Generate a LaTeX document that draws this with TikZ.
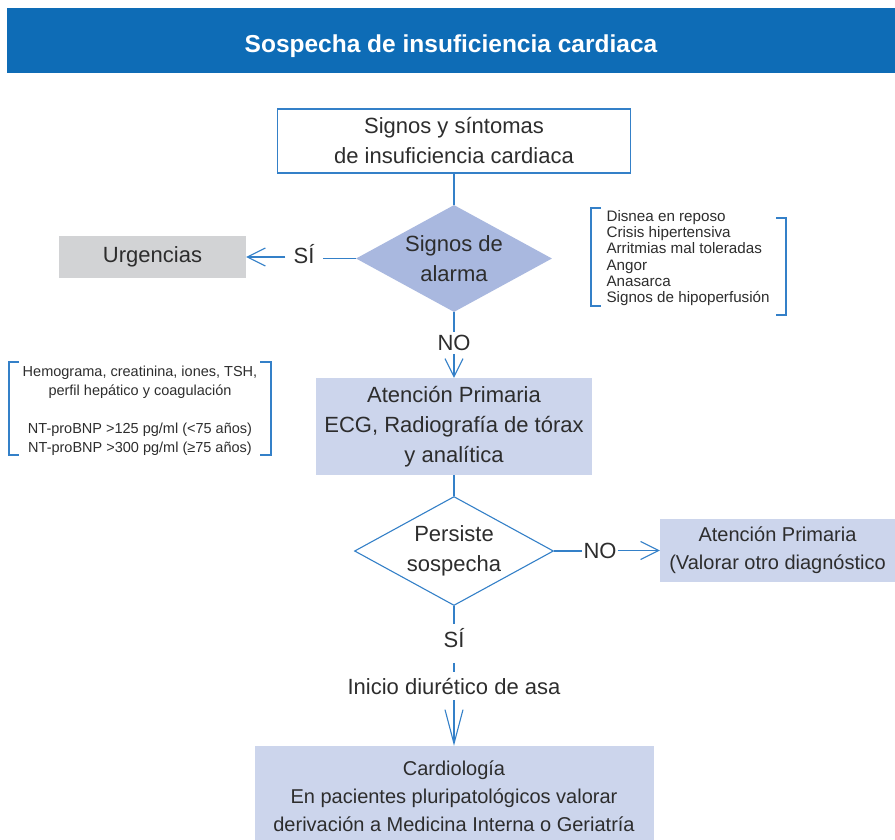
\documentclass[tikz,border=0pt]{standalone}
\usepackage{fontspec}
\setmainfont{Liberation Sans}
\usetikzlibrary{shapes.geometric, arrows.meta}

\definecolor{headblue}{RGB}{14,108,182}
\definecolor{lineblue}{RGB}{52,128,200}
\definecolor{alarmfill}{RGB}{169,184,223}
\definecolor{boxfill}{RGB}{204,213,236}
\definecolor{urggray}{RGB}{210,211,213}
\definecolor{txt}{RGB}{45,45,45}

\newcommand{\titlesize}{\fontsize{24.5}{28}\selectfont}
\newcommand{\mainsize}{\fontsize{22}{30}\selectfont}
\newcommand{\midsize}{\fontsize{20}{28}\selectfont}
\newcommand{\notesize}{\fontsize{15.2}{16.2}\selectfont}
\newcommand{\labsize}{\fontsize{14.5}{19}\selectfont}

\begin{document}
\begin{tikzpicture}[x = 1pt, y = -1pt,
        every node/.style = {text = txt, font = \mainsize},
        box/.style = {rectangle, fill = boxfill, align = center, inner sep = 0pt},
        decision/.style = {diamond, aspect = 1.83, inner sep = -4pt, align = center},
        tag/.style = {inner xsep = 8pt, inner ysep = 3pt},
        link/.style = {draw = lineblue, line width = 1.1pt},
        arrow/.style = {link, -{Straight Barb[length = 18pt, width = 18pt]}},
        bracket/.style = {draw = lineblue, line width = 1.1pt}]
        \useasboundingbox (0, 0) rectangle (895, 839);
        % header
        \node [fill = headblue, minimum width = 888, minimum height = 65, text height = 24pt, text depth = 0pt, text = white, font = \titlesize\bfseries] (title) at (451, 40.5) {Sospecha de insuficiencia cardiaca};
        % main column
        \node [draw = lineblue, line width = 1.1pt, align = center, minimum width = 353, minimum height = 64, inner sep = 0pt] (signs) at (454, 141) {Signos y síntomas\\de insuficiencia cardiaca};
        \node [decision, fill = alarmfill, minimum width = 196, minimum height = 107] (alarm) at (454, 258.5) {Signos de\\alarma};
        \node [tag] (no1) at (454, 343) {NO};
        \node [box, minimum width = 276, minimum height = 97] (primary) at (454, 426.5) {Atención Primaria\\ECG, Radiografía de tórax\\y analítica};
        \node [decision, draw = lineblue, line width = 1.1pt, fill = white, minimum width = 199, minimum height = 109] (persist) at (454, 551) {Persiste\\sospecha};
        \node [tag, inner ysep = 4pt] (si2) at (454, 638) {SÍ};
        \node [inner sep = 6pt] (diuretic) at (454, 686) {Inicio diurético de asa};
        \node [box, minimum width = 399, minimum height = 101, font = \midsize] (cardio) at (454, 796.5) {Cardiología\\En pacientes pluripatológicos valorar\\derivación a Medicina Interna o Geriatría};
        % side branches
        \node [tag] (si1) at (304, 254) {SÍ};
        \node [rectangle, fill = urggray, minimum width = 187, minimum height = 42] (urg) at (152.5, 257) {Urgencias};
        \node [tag, inner xsep = 1pt] (no2) at (600, 551) {NO};
        \node [box, minimum width = 235, minimum height = 63, font = \midsize] (other) at (777.5, 550.5) {Atención Primaria\\(Valorar otro diagnóstico};
        % notes
        \node [anchor = west, align = left, font = \notesize] (alarmlist) at (603, 258) {Disnea en reposo\\Crisis hipertensiva\\Arritmias mal toleradas\\Angor\\Anasarca\\Signos de hipoperfusión};
        \node [align = center, font = \labsize] (labs) at (140, 411) {Hemograma, creatinina, iones, TSH,\\perfil hepático y coagulación\\[19pt]NT-proBNP >125 pg/ml (<75 años)\\NT-proBNP >300 pg/ml (≥75 años)};
        \draw [bracket] (601, 208) -- (591, 208) -- (591, 306) -- (601, 306);
        \draw [bracket] (776, 218) -- (786, 218) -- (786, 315) -- (776, 315);
        \draw [bracket] (19, 362) -- (9, 362) -- (9, 455) -- (19, 455);
        \draw [bracket] (260, 362) -- (271, 362) -- (271, 455) -- (260, 455);
        % connectors
        \draw [link] (signs) -- (alarm);
        \draw [link] (alarm.west) -- (alarm.west -| si1.east);
        \draw [arrow] (si1.west |- urg.east) -- (urg.east);
        \draw [link] (alarm) -- (no1);
        \draw [arrow] (no1) -- (primary);
        \draw [link] (primary) -- (persist);
        \draw [link] (persist.east) -- (persist.east -| no2.west);
        \draw [arrow] (no2.east |- other.west) -- (other.west);
        \draw [link] (persist) -- (si2);
        \draw [link, shorten <= 11pt] (si2) -- (diuretic);
        \draw [link, -{Straight Barb[length = 34pt, width = 18pt]}] (diuretic) -- (cardio);
\end{tikzpicture}
\end{document}
